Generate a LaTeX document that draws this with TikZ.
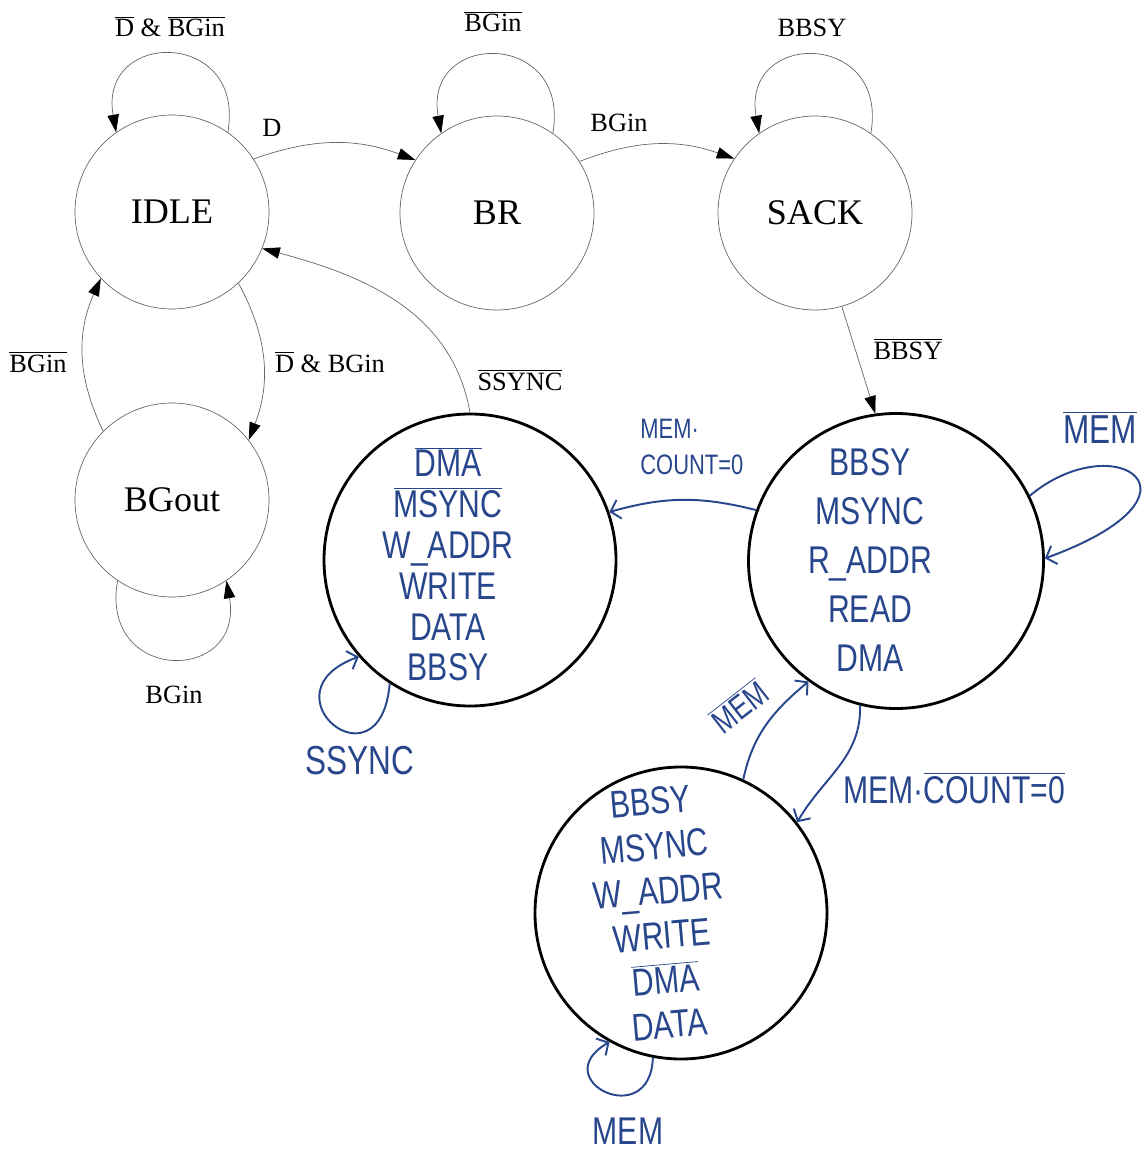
\documentclass[tikz,border=0pt]{standalone}
\usepackage{fontspec}
\setmainfont{Liberation Serif}
\newfontfamily\handfont[FakeStretch=0.78]{Liberation Sans}
\usetikzlibrary{arrows.meta}
\definecolor{inkblue}{RGB}{40,70,140}
\newcommand{\negsig}[1]{$\overline{\mbox{#1}}$}
\tikzset{
  state/.style={circle,draw=black!60,thin,minimum size=3.88cm,inner sep=0pt,font=\fontsize{20.5}{24}\selectfont},
  lbl/.style={anchor=base,inner sep=0pt,font=\fontsize{15}{18}\selectfont},
  tr/.style={draw=black!60,thin,-{Triangle[length=10pt,width=6.5pt,black]}},
  hstate/.style={circle,draw=black,line width=1.6pt,inner sep=0pt,minimum size=5.84cm},
  htxt/.style={text=inkblue,align=center,inner sep=0pt},
  hlbl/.style={text=inkblue,inner sep=0pt},
  hw/.style={draw=inkblue,line width=1.1pt,-{Straight Barb[length=5pt,width=11pt]}}
}
\begin{document}
\begin{tikzpicture}
\useasboundingbox (0,0) rectangle (22.88,-23.04);

\node[state] (idle) at (3.44,-4.24) {IDLE};
\node[state] (br) at (9.94,-4.26) {BR};
\node[state] (sack) at (16.30,-4.26) {SACK};
\node[state] (bgout) at (3.44,-10.0) {BGout};

\node[hstate] (wr) at (9.40,-11.20) {};
\node[hstate,minimum size=5.9cm] (rd) at (17.92,-11.22) {};
\node[hstate] (ws) at (13.62,-18.26) {};

\node[htxt,font=\handfont\fontsize{22}{23.2}\selectfont] (wrtxt) at (8.96,-11.28)
  {\negsig{DMA}\\\negsig{MSYNC}\\W\_ADDR\\WRITE\\DATA\\BBSY};
\node[htxt,font=\handfont\fontsize{22}{27.8}\selectfont] (rdtxt) at (17.40,-11.20)
  {BBSY\\MSYNC\\R\_ADDR\\READ\\DMA};
\node[htxt,font=\handfont\fontsize{22}{25.5}\selectfont,rotate=5] (wstxt) at (13.20,-18.26)
  {BBSY\\MSYNC\\W\_ADDR\\WRITE\\\negsig{DMA}\\DATA};

\node[lbl] (lidle) at (3.40,-0.74) {\negsig{D} \& \negsig{BGin}};
\node[lbl] (ld) at (5.44,-2.74) {D};
\node[lbl] (lbr) at (9.86,-0.64) {\negsig{BGin}};
\node[lbl] (lbgin) at (12.38,-2.64) {BGin};
\node[lbl] (lsack) at (16.24,-0.74) {BBSY};
\node[lbl] (lbbsy) at (18.16,-7.18) {\negsig{BBSY}};
\node[lbl] (lback) at (0.76,-7.44) {\negsig{BGin}};
\node[lbl] (lgrant) at (6.60,-7.44) {\negsig{D} \& BGin};
\node[lbl] (lssync) at (10.40,-7.80) {\negsig{SSYNC}};
\node[lbl] (lbgout) at (3.48,-14.06) {BGin};

\node[hlbl,font=\handfont\fontsize{16}{20}\selectfont,align=left,anchor=west] (mcnt) at (12.80,-8.94) {MEM·\\COUNT=0};
\node[hlbl,font=\handfont\fontsize{23}{26}\selectfont,anchor=base] (mrd) at (22.0,-8.86) {\negsig{MEM}};
\node[hlbl,font=\handfont\fontsize{23}{26}\selectfont,anchor=base] (mwr) at (7.20,-15.48) {SSYNC};
\node[hlbl,font=\handfont\fontsize{19}{22}\selectfont,rotate=38] (mup) at (14.78,-14.12) {\negsig{MEM}};
\node[hlbl,font=\handfont\fontsize{22}{24}\selectfont,anchor=base west] (mdown) at (16.86,-16.06) {MEM·\negsig{COUNT=0}};
\node[hlbl,font=\handfont\fontsize{22}{24}\selectfont,anchor=base] (mws) at (12.56,-22.88) {MEM};

\draw[tr] (idle.55) .. controls +(80:2.1) and +(100:2.1) .. (idle.125);
\draw[tr] (br.55) .. controls +(80:2.1) and +(100:2.1) .. (br.125);
\draw[tr] (sack.55) .. controls +(80:2.1) and +(100:2.1) .. (sack.125);
\draw[tr] (bgout.-124) .. controls +(-100:2.1) and +(-80:2.1) .. (bgout.-56);
\draw[tr] (idle.33) to[bend left=20] (br.147);
\draw[tr] (br.32) to[bend left=20] (sack.146);
\draw[tr] (sack.-74) -- (rd.98);
\draw[tr] (idle.-47) to[bend left=25] (bgout.38);
\draw[tr] (bgout.135) to[bend left=25] (idle.-137);
\draw[tr] (wr.90) to[out=100,in=-15] (idle.-22);

\draw[hw] (rd.160) to[bend right=15] (wr.19);
\draw[hw] (rd.26) .. controls +(40:2.2) and +(20:3.75) .. (rd.1);
\draw[hw] (wr.-123) .. controls +(-95:2.2) and +(-160:2.1) .. (wr.-139);
\draw[hw] (ws.65) to[out=78,in=-140] (rd.-126);
\draw[hw] (rd.-104) to[out=-88,in=60] (ws.38);
\draw[hw] (ws.-101) .. controls +(-92:1.5) and +(-150:1.5) .. (ws.-119);

\end{tikzpicture}
\end{document}
